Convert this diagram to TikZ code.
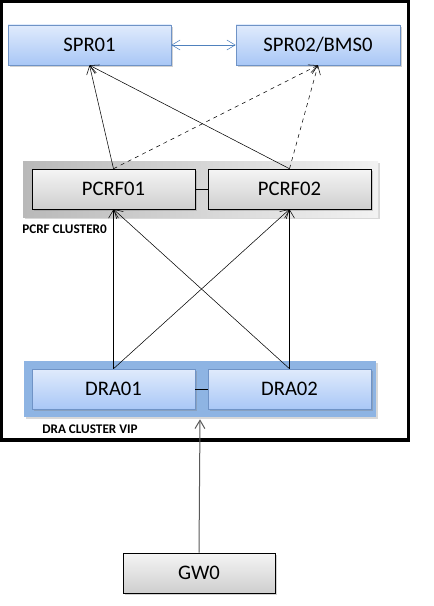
\documentclass[tikz,border=0pt]{standalone}
\usepackage{fontspec}
\setmainfont{Carlito}
\usepackage{tikz}
\usetikzlibrary{arrows.meta,shadows}
\usepackage{xcolor}
\definecolor{sprtop}{HTML}{E0EBFC}
\definecolor{sprbot}{HTML}{A9C7F6}
\definecolor{sprline}{HTML}{6F93C6}
\definecolor{linkblue}{HTML}{4F81BD}
\definecolor{clusterblue}{HTML}{8EB4E3}

\begin{document}
\begin{tikzpicture}[x=0.75pt,y=-0.75pt,>={Straight Barb[length=2.2mm,width=2.6mm]},
  font=\fontsize{15.5}{18}\selectfont,
  box/.style={minimum width=122.25pt,minimum height=30pt,inner sep=0pt,
    drop shadow={opacity=0.35,shadow xshift=1.2pt,shadow yshift=-1.2pt}},
  bluebox/.style={box,draw=sprline,top color=sprtop,bottom color=sprbot},
  graybox/.style={box,draw=black,top color=gray!8,bottom color=gray!38},
  clusterlbl/.style={anchor=west,inner sep=0pt,font=\fontsize{9.9}{11}\selectfont\bfseries}]
\useasboundingbox (0,0) rectangle (433,606);
\fill[white] (0,0) rectangle (433,606);
% outer frame
\draw[line width=2.3pt] (1.5,1.5) rectangle (408.5,440);

% clusters
\node[minimum width=266.25pt,minimum height=42pt,inner sep=0pt,left color=gray!55,right color=gray!10,
  drop shadow={opacity=0.3,shadow xshift=1.2pt,shadow yshift=-1.2pt}] (pcrfcl) at (200.5,189) {};
\node[minimum width=264pt,minimum height=42pt,inner sep=0pt,fill=clusterblue,
  drop shadow={opacity=0.3,shadow xshift=1.2pt,shadow yshift=-1.2pt}] (dracl) at (200,389) {};
\node[clusterlbl] (pcrflbl) at (22,229) {PCRF CLUSTER0};
\node[clusterlbl] (dralbl) at (42,429) {DRA CLUSTER VIP};

% boxes
\node[bluebox] (spr1) at (89.5,45) {SPR01};
\node[bluebox,minimum width=123pt] (spr2) at (318,45) {SPR02/BMS0};
\node[graybox] (pcrf1) at (113.5,189) {PCRF01};
\node[graybox] (pcrf2) at (289.5,189) {PCRF02};
\node[bluebox] (dra1) at (113.5,389) {DRA01};
\node[bluebox] (dra2) at (289.5,389) {DRA02};
\node[graybox,minimum width=114pt] (gw) at (199,573) {GW0};

% links
\draw[<->,linkblue] (spr1) -- (spr2);
\draw (pcrf1) -- (pcrf2);
\draw (dra1) -- (dra2);
\draw[->] (pcrf1.north) -- (spr1.south);
\draw[->] (pcrf2.north) -- (spr1.south);
\draw[->,dashed] (pcrf1.north) -- (spr2.south);
\draw[->,dashed] (pcrf2.north) -- (spr2.south);
\draw[->] (dra1.north) -- (pcrf1.south);
\draw[->] (dra1.north) -- (pcrf2.south);
\draw[->] (dra2.north) -- (pcrf1.south);
\draw[->] (dra2.north) -- (pcrf2.south);
\draw[->,black!65,line width=0.75pt] (gw.north) -- ([yshift=-1.5pt]dracl.south);
\end{tikzpicture}
\end{document}
